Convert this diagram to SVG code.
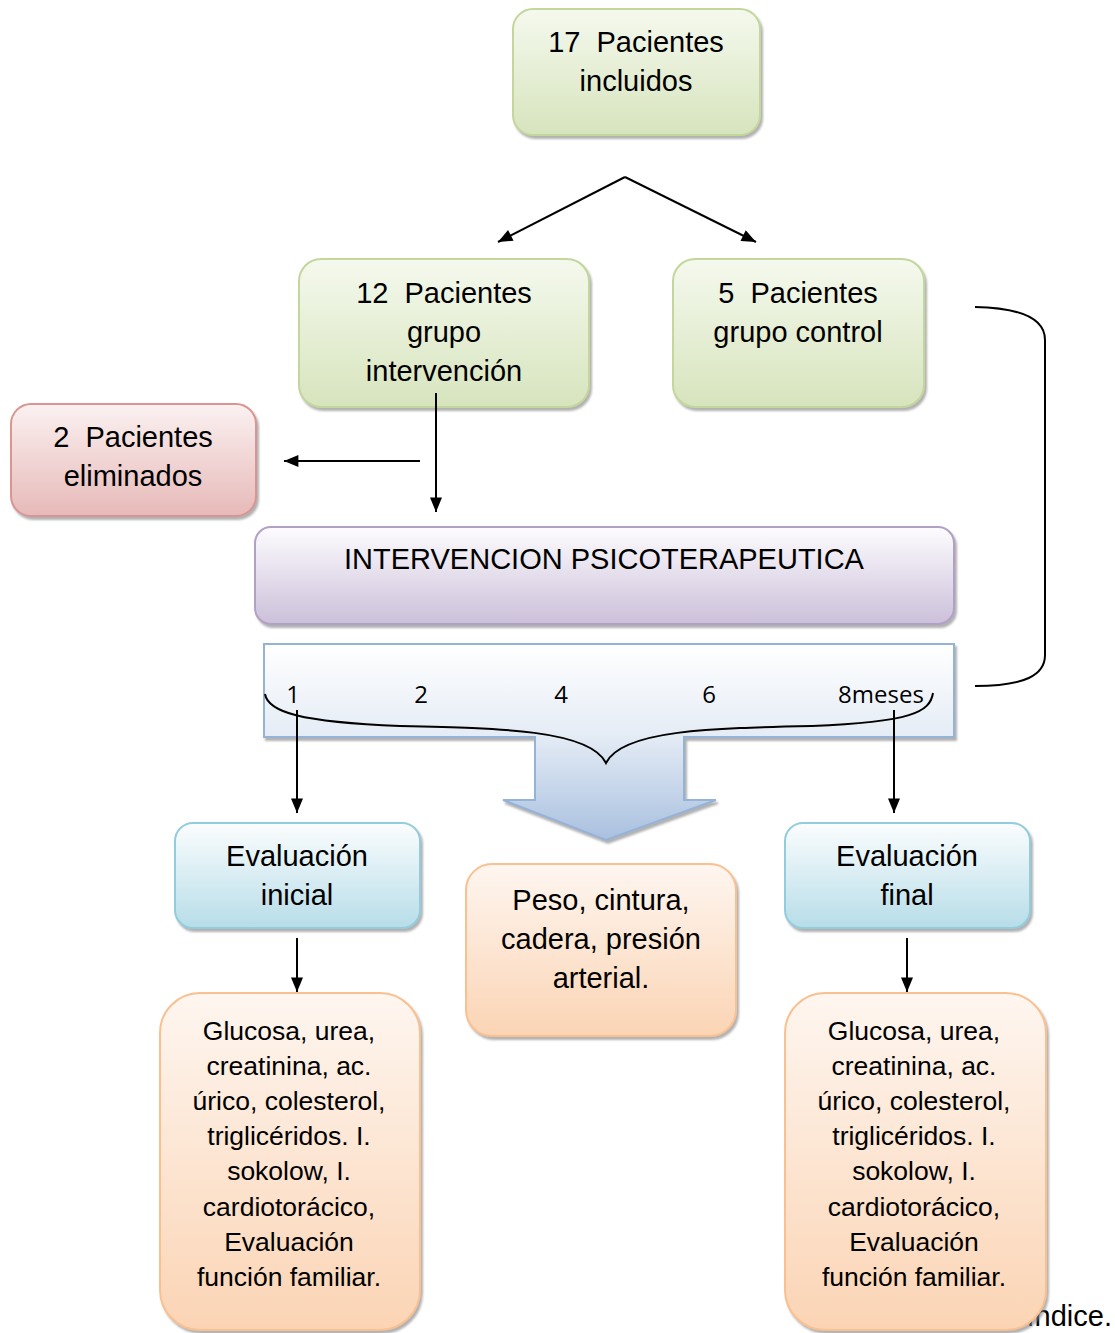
<svg xmlns="http://www.w3.org/2000/svg" width="1115" height="1333" viewBox="0 0 1115 1333">
<defs>
<linearGradient id="gGreen" x1="0" y1="0" x2="0" y2="1"><stop offset="0" stop-color="#f5f9ee"/><stop offset="1" stop-color="#d7e4bd"/></linearGradient>
<linearGradient id="gRed" x1="0" y1="0" x2="0" y2="1"><stop offset="0" stop-color="#fbf1f1"/><stop offset="1" stop-color="#e6b9b8"/></linearGradient>
<linearGradient id="gPurple" x1="0" y1="0" x2="0" y2="1"><stop offset="0" stop-color="#fdfcfe"/><stop offset="1" stop-color="#ccc0da"/></linearGradient>
<linearGradient id="gBlue" x1="0" y1="0" x2="0" y2="1"><stop offset="0" stop-color="#fbfdfe"/><stop offset="1" stop-color="#b7dde8"/></linearGradient>
<linearGradient id="gOrange" x1="0" y1="0" x2="0" y2="1"><stop offset="0" stop-color="#fef6f0"/><stop offset="1" stop-color="#fbd4b4"/></linearGradient>
<linearGradient id="gBigArrow" x1="0" y1="644" x2="0" y2="840" gradientUnits="userSpaceOnUse"><stop offset="0" stop-color="#ffffff"/><stop offset="0.45" stop-color="#e6edf6"/><stop offset="1" stop-color="#a9c0df"/></linearGradient>
<filter id="sh" x="-10%" y="-10%" width="125%" height="130%"><feDropShadow dx="2" dy="3" stdDeviation="1.2" flood-color="#7f7f7f" flood-opacity="0.6"/></filter>
<marker id="ah2" viewBox="0 0 12 10" refX="12" refY="5" markerWidth="15" markerHeight="12" markerUnits="userSpaceOnUse" orient="auto"><path d="M0,0 L12,5 L0,10 z" fill="#000"/></marker>
</defs>
<style>
.t{font-family:"Liberation Sans",Arial,sans-serif;font-size:29px;fill:#000;text-anchor:middle;white-space:pre}
.s{font-family:"Liberation Sans",Arial,sans-serif;font-size:26.5px;fill:#000;text-anchor:middle}
.n{font-family:"Open Sans","Liberation Sans",sans-serif;font-size:24px;fill:#000;text-anchor:middle}
.green{fill:url(#gGreen);stroke:#c3d69b;stroke-width:2;filter:url(#sh)}
.red{fill:url(#gRed);stroke:#d99594;stroke-width:2;filter:url(#sh)}
.purple{fill:url(#gPurple);stroke:#b2a1c7;stroke-width:2;filter:url(#sh)}
.blue{fill:url(#gBlue);stroke:#93cddd;stroke-width:2;filter:url(#sh)}
.orange{fill:url(#gOrange);stroke:#fac090;stroke-width:2;filter:url(#sh)}
.c{fill:none;stroke:#000;stroke-width:2}
</style>

<text x="1112" y="1326" font-family="Liberation Sans, Arial, sans-serif" font-size="29" text-anchor="end">índice.</text>

<g id="n17">
<rect class="green" x="513" y="9" width="247" height="126" rx="20"/>
<text class="t" x="636" y="52" xml:space="preserve">17  Pacientes</text>
<text class="t" x="636" y="91">incluidos</text>
</g>
<g id="n12">
<rect class="green" x="299" y="259" width="290" height="148" rx="22"/>
<text class="t" x="444" y="303" xml:space="preserve">12  Pacientes</text>
<text class="t" x="444" y="342">grupo</text>
<text class="t" x="444" y="381">intervención</text>
</g>
<g id="n5">
<rect class="green" x="673" y="259" width="251" height="148" rx="22"/>
<text class="t" x="798" y="303" xml:space="preserve">5  Pacientes</text>
<text class="t" x="798" y="342">grupo control</text>
</g>
<g id="nElim">
<rect class="red" x="11" y="404" width="245" height="112" rx="20"/>
<text class="t" x="133" y="447" xml:space="preserve">2  Pacientes</text>
<text class="t" x="133" y="486">eliminados</text>
</g>
<g id="nInterv">
<rect class="purple" x="255" y="527" width="699" height="97" rx="16"/>
<text class="t" x="604" y="569">INTERVENCION PSICOTERAPEUTICA</text>
</g>
<g id="nTimeline">
<path d="M264,644 H954 V737 H684 V800 H716 L606,840 L503,800 H535 V737 H264 Z" fill="url(#gBigArrow)" stroke="#95b3d7" stroke-width="2" filter="url(#sh)"/>
<text class="n" x="293" y="703">1</text>
<text class="n" x="421" y="703">2</text>
<text class="n" x="561" y="703">4</text>
<text class="n" x="709" y="703">6</text>
<text class="n" x="881" y="703">8meses</text>
<path class="c" d="M265,694 C268,712 300,722 400,726 C500,728 590,730 606,763 C622,730 712,728 812,726 C912,722 930,712 933,693"/>
</g>
<g id="nEvalIni">
<rect class="blue" x="175" y="823" width="245" height="105" rx="18"/>
<text class="t" x="297" y="866">Evaluación</text>
<text class="t" x="297" y="905">inicial</text>
</g>
<g id="nEvalFin">
<rect class="blue" x="785" y="823" width="245" height="105" rx="18"/>
<text class="t" x="907" y="866">Evaluación</text>
<text class="t" x="907" y="905">final</text>
</g>
<g id="nPeso">
<rect class="orange" x="466" y="864" width="270" height="172" rx="26"/>
<text class="t" x="601" y="910">Peso, cintura,</text>
<text class="t" x="601" y="949">cadera, presión</text>
<text class="t" x="601" y="988">arterial.</text>
</g>
<g id="nLabIni">
<rect class="orange" x="160" y="993" width="260" height="337" rx="40"/>
<text class="s" x="289" y="1040">Glucosa, urea,</text>
<text class="s" x="289" y="1075">creatinina, ac.</text>
<text class="s" x="289" y="1110">úrico, colesterol,</text>
<text class="s" x="289" y="1145">triglicéridos. I.</text>
<text class="s" x="289" y="1180">sokolow, I.</text>
<text class="s" x="289" y="1216">cardiotorácico,</text>
<text class="s" x="289" y="1251">Evaluación</text>
<text class="s" x="289" y="1286">función familiar.</text>
</g>
<g id="nLabFin">
<rect class="orange" x="785" y="993" width="261" height="337" rx="40"/>
<text class="s" x="914" y="1040">Glucosa, urea,</text>
<text class="s" x="914" y="1075">creatinina, ac.</text>
<text class="s" x="914" y="1110">úrico, colesterol,</text>
<text class="s" x="914" y="1145">triglicéridos. I.</text>
<text class="s" x="914" y="1180">sokolow, I.</text>
<text class="s" x="914" y="1216">cardiotorácico,</text>
<text class="s" x="914" y="1251">Evaluación</text>
<text class="s" x="914" y="1286">función familiar.</text>
</g>

<g id="connectors">
<line class="c" x1="625" y1="177" x2="498" y2="242" marker-end="url(#ah2)"/>
<line class="c" x1="625" y1="177" x2="756" y2="242" marker-end="url(#ah2)"/>
<line class="c" x1="436" y1="393" x2="436" y2="512" marker-end="url(#ah2)"/>
<line class="c" x1="420" y1="461" x2="284" y2="461" marker-end="url(#ah2)"/>
<line class="c" x1="297" y1="710" x2="297" y2="813" marker-end="url(#ah2)"/>
<line class="c" x1="894" y1="710" x2="894" y2="813" marker-end="url(#ah2)"/>
<line class="c" x1="297" y1="938" x2="297" y2="992" marker-end="url(#ah2)"/>
<line class="c" x1="907" y1="938" x2="907" y2="992" marker-end="url(#ah2)"/>
<path class="c" d="M975,307 C1025,308 1045,320 1045,340 V655 C1045,675 1025,686 975,686"/>
</g>
</svg>
